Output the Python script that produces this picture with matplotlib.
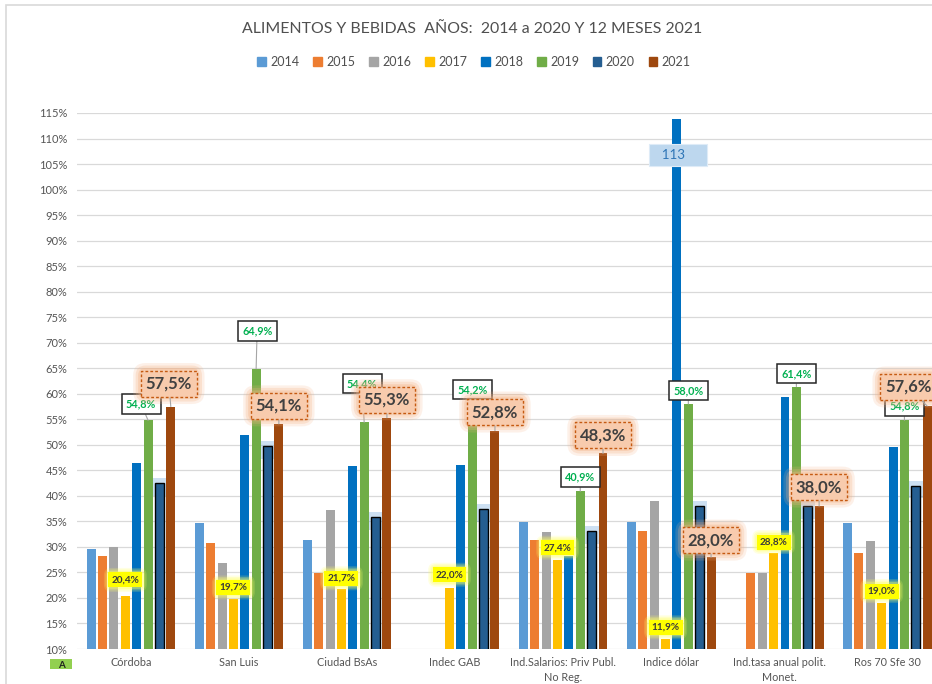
import numpy as np
import matplotlib
matplotlib.use("Agg")
import matplotlib.pyplot as plt
from matplotlib.patches import Rectangle

# ---------------- data ----------------
categories = ["Córdoba", "San Luis", "Ciudad BsAs", "Indec GAB",
              "Ind.Salarios: Priv Publ.\nNo Reg.", "Indice dólar",
              "Ind.tasa anual polit.\nMonet.", "Ros 70 Sfe 30"]
years = ["2014", "2015", "2016", "2017", "2018", "2019", "2020", "2021"]
v2014 = [29.5, 34.6, 31.4, np.nan, 34.9, 34.9, np.nan, 34.6]
v2015 = [28.2, 30.7, 24.9, np.nan, 31.4, 33.1, 24.9, 28.9]
v2016 = [29.9, 26.8, 37.2, np.nan, 32.9, 39.0, 24.8, 31.2]
v2017 = [20.4, 19.7, 21.7, 22.0, 27.4, 11.9, 28.8, 19.0]
v2018 = [46.4, 52.0, 45.8, 46.1, 28.2, 113.8, 59.4, 49.6]
v2019 = [54.8, 64.9, 54.4, 54.2, 40.9, 58.0, 61.4, 54.8]
v2020 = [42.5, 49.8, 35.9, 37.4, 33.1, 38.0, 38.0, 42.0]
v2021 = [57.5, 54.1, 55.3, 52.8, 48.3, 28.0, 38.0, 57.6]
label_113 = "113"
yticks = list(range(10, 120, 5))
title = "ALIMENTOS Y BEBIDAS  AÑOS:  2014 a 2020 Y 12 MESES 2021"

series = [v2014, v2015, v2016, v2017, v2018, v2019, v2020, v2021]
colors = ["#5B9BD5", "#ED7D31", "#A5A5A5", "#FFC000",
          "#0070C0", "#70AD47", "#255E91", "#9E480E"]

# label offsets in pixels (styling)
off2017 = [(0, 16), (0, 12), (0, 11), (0, 13), (0, 12.5), (0, 12), (0, 11), (0, 12)]
off2019 = [(-7, 16), (1, 38), (-2, 39), (0, 34), (0, 14), (0, 13.5), (0, 13), (0, 14)]
off2021 = [(-2, 23), (0, 18), (0, 18), (0, 18.5), (0, 18), (0, 17), (0, 19), (-19, 19)]

plt.rcParams['font.family'] = ['Lato', 'DejaVu Sans']

W, H = 932, 684
fig = plt.figure(figsize=(W / 100, H / 100), dpi=100)


def px(x0, y0, x1, y1):
    return [x0 / W, 1 - y1 / H, (x1 - x0) / W, (y1 - y0) / H]


# chart border
fig.add_artist(Rectangle((6 / W, -0.05), 1.1, 1 - 5 / H + 0.05, transform=fig.transFigure,
                         fill=False, ec="#D9D9D9", lw=1.2))

ax = fig.add_axes(px(77, 113, 932, 649))
ax.set_xlim(-0.5, 7.413)
ax.set_ylim(10, 115)
ax.set_yticks(yticks)
ax.set_yticklabels([f"{t}%" for t in yticks])
ax.yaxis.grid(True, color="#D9D9D9", lw=0.9)
ax.set_axisbelow(True)
for s in ax.spines.values():
    s.set_visible(False)
ax.tick_params(axis='y', length=0, pad=7, labelsize=8, labelcolor="#555555")
ax.tick_params(axis='x', length=0, pad=6, labelsize=7.8, labelcolor="#555555")

xg = np.arange(len(categories))
step = 0.1052
bw = 0.083
for j, (vals, c) in enumerate(zip(series, colors)):
    xs = xg + (j - 3.5) * step
    v = np.array(vals, dtype=float)
    if j == 6:
        # soft blue glow at top of 2020 bars
        ax.bar(xs, 3.5, bottom=v - 2.5, width=bw + 0.05, color="#5B9BD5", alpha=0.3,
               zorder=1.6, lw=0)
        ax.bar(xs, v, width=bw, color=c, edgecolor="black", lw=1.0, zorder=2)
    else:
        ax.bar(xs, v, width=bw, color=c, lw=0, zorder=2)

ax.set_xticks(xg)
ax.set_xticklabels(categories, linespacing=1.4)


def fmt(v):
    return f"{v:.1f}%".replace(".", ",")


def label(x, y, text, off, fs, tcolor, fc, ec, ls='-', weight='bold', glow=None,
          z=10, line=False, lw=1.0, pad=0.3):
    if glow:
        for gp, a in [(pad + 0.45, 0.18), (pad + 0.3, 0.25), (pad + 0.15, 0.35)]:
            ax.annotate(text, (x, y), xytext=off, textcoords='offset pixels',
                        ha='center', va='center', fontsize=fs, fontweight=weight,
                        color='none',
                        bbox=dict(boxstyle=f'round,pad={gp}', fc=glow, ec='none', alpha=a),
                        zorder=z - 0.5)
    ap = dict(arrowstyle='-', color='#A6A6A6', lw=0.8, shrinkA=0, shrinkB=0) if line else None
    ax.annotate(text, (x, y), xytext=off, textcoords='offset pixels',
                ha='center', va='center', fontsize=fs, fontweight=weight, color=tcolor,
                bbox=dict(boxstyle=f'square,pad={pad}', fc=fc, ec=ec, ls=ls, lw=lw),
                arrowprops=ap, zorder=z)


for i in range(len(categories)):
    # 2017 yellow labels
    x17 = i + (3 - 3.5) * step
    label(x17, v2017[i], fmt(v2017[i]), off2017[i], 7.2, "#3A3A3A", "#FFFF00", "none",
          glow="#FFFF66", z=8)
    # 2019 green labels
    x19 = i + (5 - 3.5) * step
    label(x19, v2019[i], fmt(v2019[i]), off2019[i], 7.8, "#00B050", "white", "#262626",
          z=9, line=True, lw=1.1, pad=0.4)
    # 2021 orange labels
    x21 = i + (7 - 3.5) * step
    label(x21, v2021[i], fmt(v2021[i]), off2021[i], 12, "#404040", "#F8CBAD", "#C55A11",
          ls=(0, (2, 1.5)), glow="#F4B183", z=11, line=True)

# 113 label on dollar 2018 bar (box extends to the right of the text)
x18 = 5 + (4 - 3.5) * step
ax.annotate("  " + label_113 + " " * 5, (x18, v2018[5]), xytext=(1, -36),
            textcoords='offset pixels', ha='center', va='center', fontsize=9.5,
            color="#2E75B6",
            bbox=dict(boxstyle='square,pad=0.4', fc="#BDD7EE", ec="#DEEBF7", lw=0.8),
            zorder=12)

# title
fig.text(472 / W, 1 - 29 / H, title, ha='center', va='center', fontsize=11.4,
         color="#4F4F4F")

# legend
handles = [Rectangle((0, 0), 1, 1, color=c) for c in colors]
fig.legend(handles, years, loc='center', bbox_to_anchor=(474 / W, 1 - 62 / H), ncol=8,
           frameon=False, fontsize=9, handlelength=0.7, handleheight=0.7,
           handletextpad=0.35, columnspacing=1.1, labelcolor="#4F4F4F")

# small green tag at bottom-left
fig.add_artist(Rectangle((50 / W, 1 - 669 / H), 22 / W, 10 / H, transform=fig.transFigure,
                         color="#92D050", lw=0))
fig.text(61 / W, 1 - 665 / H, "A", ha='center', va='center', fontsize=7,
         fontweight='bold', color="#1F1F1F")

fig.savefig("out.png", dpi=100)
